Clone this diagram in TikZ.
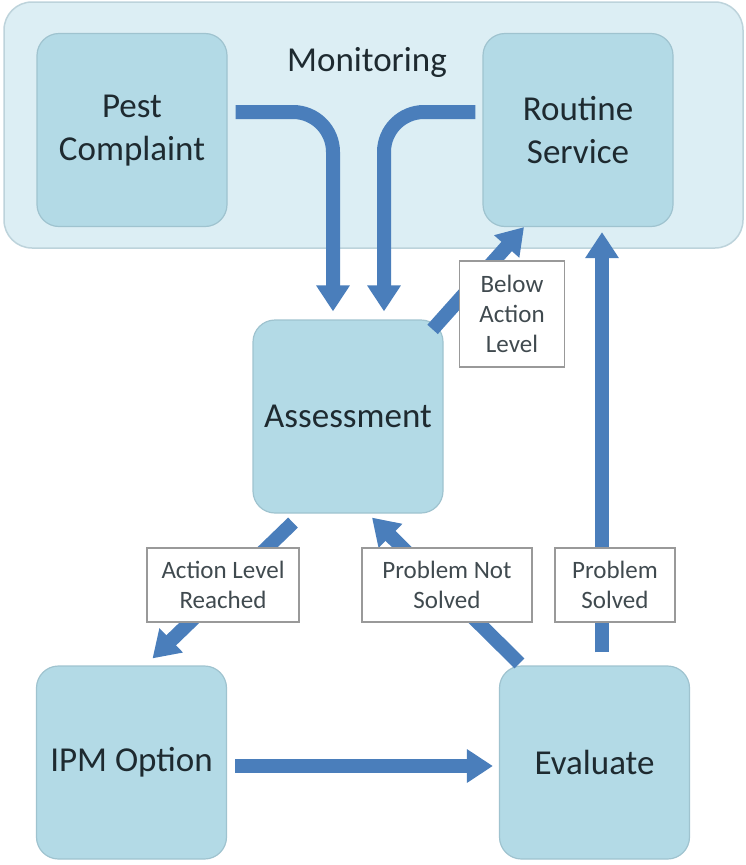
\documentclass[tikz,border=0pt]{standalone}
\usepackage{fontspec}
\setmainfont{Carlito}
\usetikzlibrary{arrows.meta}
\definecolor{boxfill}{HTML}{B3DAE6}
\definecolor{boxline}{HTML}{9FC3CF}
\definecolor{outerfill}{HTML}{DCEEF4}
\definecolor{outerline}{HTML}{BDD3DB}
\definecolor{arrowblue}{HTML}{4A7EBB}
\definecolor{txt}{HTML}{1E2A30}
\begin{document}
\begin{tikzpicture}[x=1pt,y=-1pt,
  stagebox/.style={draw=boxline, line width=1.2pt, fill=boxfill, rounded corners=22pt,
    minimum width=190pt, minimum height=193pt, align=center,
    font=\fontsize{35}{43}\selectfont, text=txt, inner sep=0pt},
  lab/.style={draw=gray!80, line width=1.3pt, fill=white, align=center,
    font=\fontsize{25}{30}\selectfont, text=txt!85, inner sep=0pt},
  flow/.style={draw=arrowblue, line width=14pt, -{Triangle[width=32pt,length=26pt]}}]
\useasboundingbox (0,0) rectangle (746,865);
\node[draw=outerline, line width=1.5pt, fill=outerfill, rounded corners=28pt,
  minimum width=739pt, minimum height=246pt] (monitoring) at (373.5,125) {};
\node[font=\fontsize{35}{43}\selectfont, text=txt] (montext) at (367,62) {Monitoring};
\node[stagebox] (pest) at (132,130) {\raisebox{8pt}{\begin{tabular}{@{}c@{}}Pest\\Complaint\end{tabular}}};
\node[stagebox] (routine) at (578,130) {Routine\\Service};
\node[stagebox] (assess) at (348,416.5) {Assessment};
\node[stagebox] (ipm) at (131.5,762.5) {IPM Option};
\node[stagebox] (eval) at (594.5,762.5) {Evaluate};
% arrows
\coordinate (p1) at ([xshift=8pt,yshift=18pt]pest.east);
\coordinate (p2) at ([xshift=-7pt,yshift=18pt]routine.west);
\draw[flow, rounded corners=40pt] (p1) -| ([xshift=-15pt,yshift=8pt]assess.north);
\draw[flow, rounded corners=40pt] (p2) -| ([xshift=36pt,yshift=8pt]assess.north);
\draw[flow] ([xshift=-11pt,yshift=-10pt]assess.north east) -- ([xshift=-54pt]routine.south);
\draw[flow] ([xshift=-55pt,yshift=-9pt]assess.south) -- ([xshift=21pt,yshift=7pt]ipm.north);
\draw[flow] ([xshift=-75pt,yshift=2pt]eval.north) -- ([xshift=24pt,yshift=-4pt]assess.south);
\draw[flow] ([xshift=7.5pt,yshift=13pt]eval.north) -- ([xshift=24pt,yshift=-5pt]routine.south);
\draw[flow] ([xshift=8pt,yshift=-3.5pt]ipm.east) -- ([xshift=-6pt,yshift=-3.5pt]eval.west);
% labels
\node[lab, minimum width=105pt, minimum height=106pt] (lbelow) at (512,314) {Below\\Action\\Level};
\node[lab, minimum width=152pt, minimum height=74pt] (lreach) at (223,585) {Action Level\\Reached};
\node[lab, minimum width=170pt, minimum height=74pt] (lnot) at (447,585) {Problem Not\\Solved};
\node[lab, minimum width=120pt, minimum height=74pt] (lsolved) at (615,585) {Problem\\Solved};
\end{tikzpicture}
\end{document}
